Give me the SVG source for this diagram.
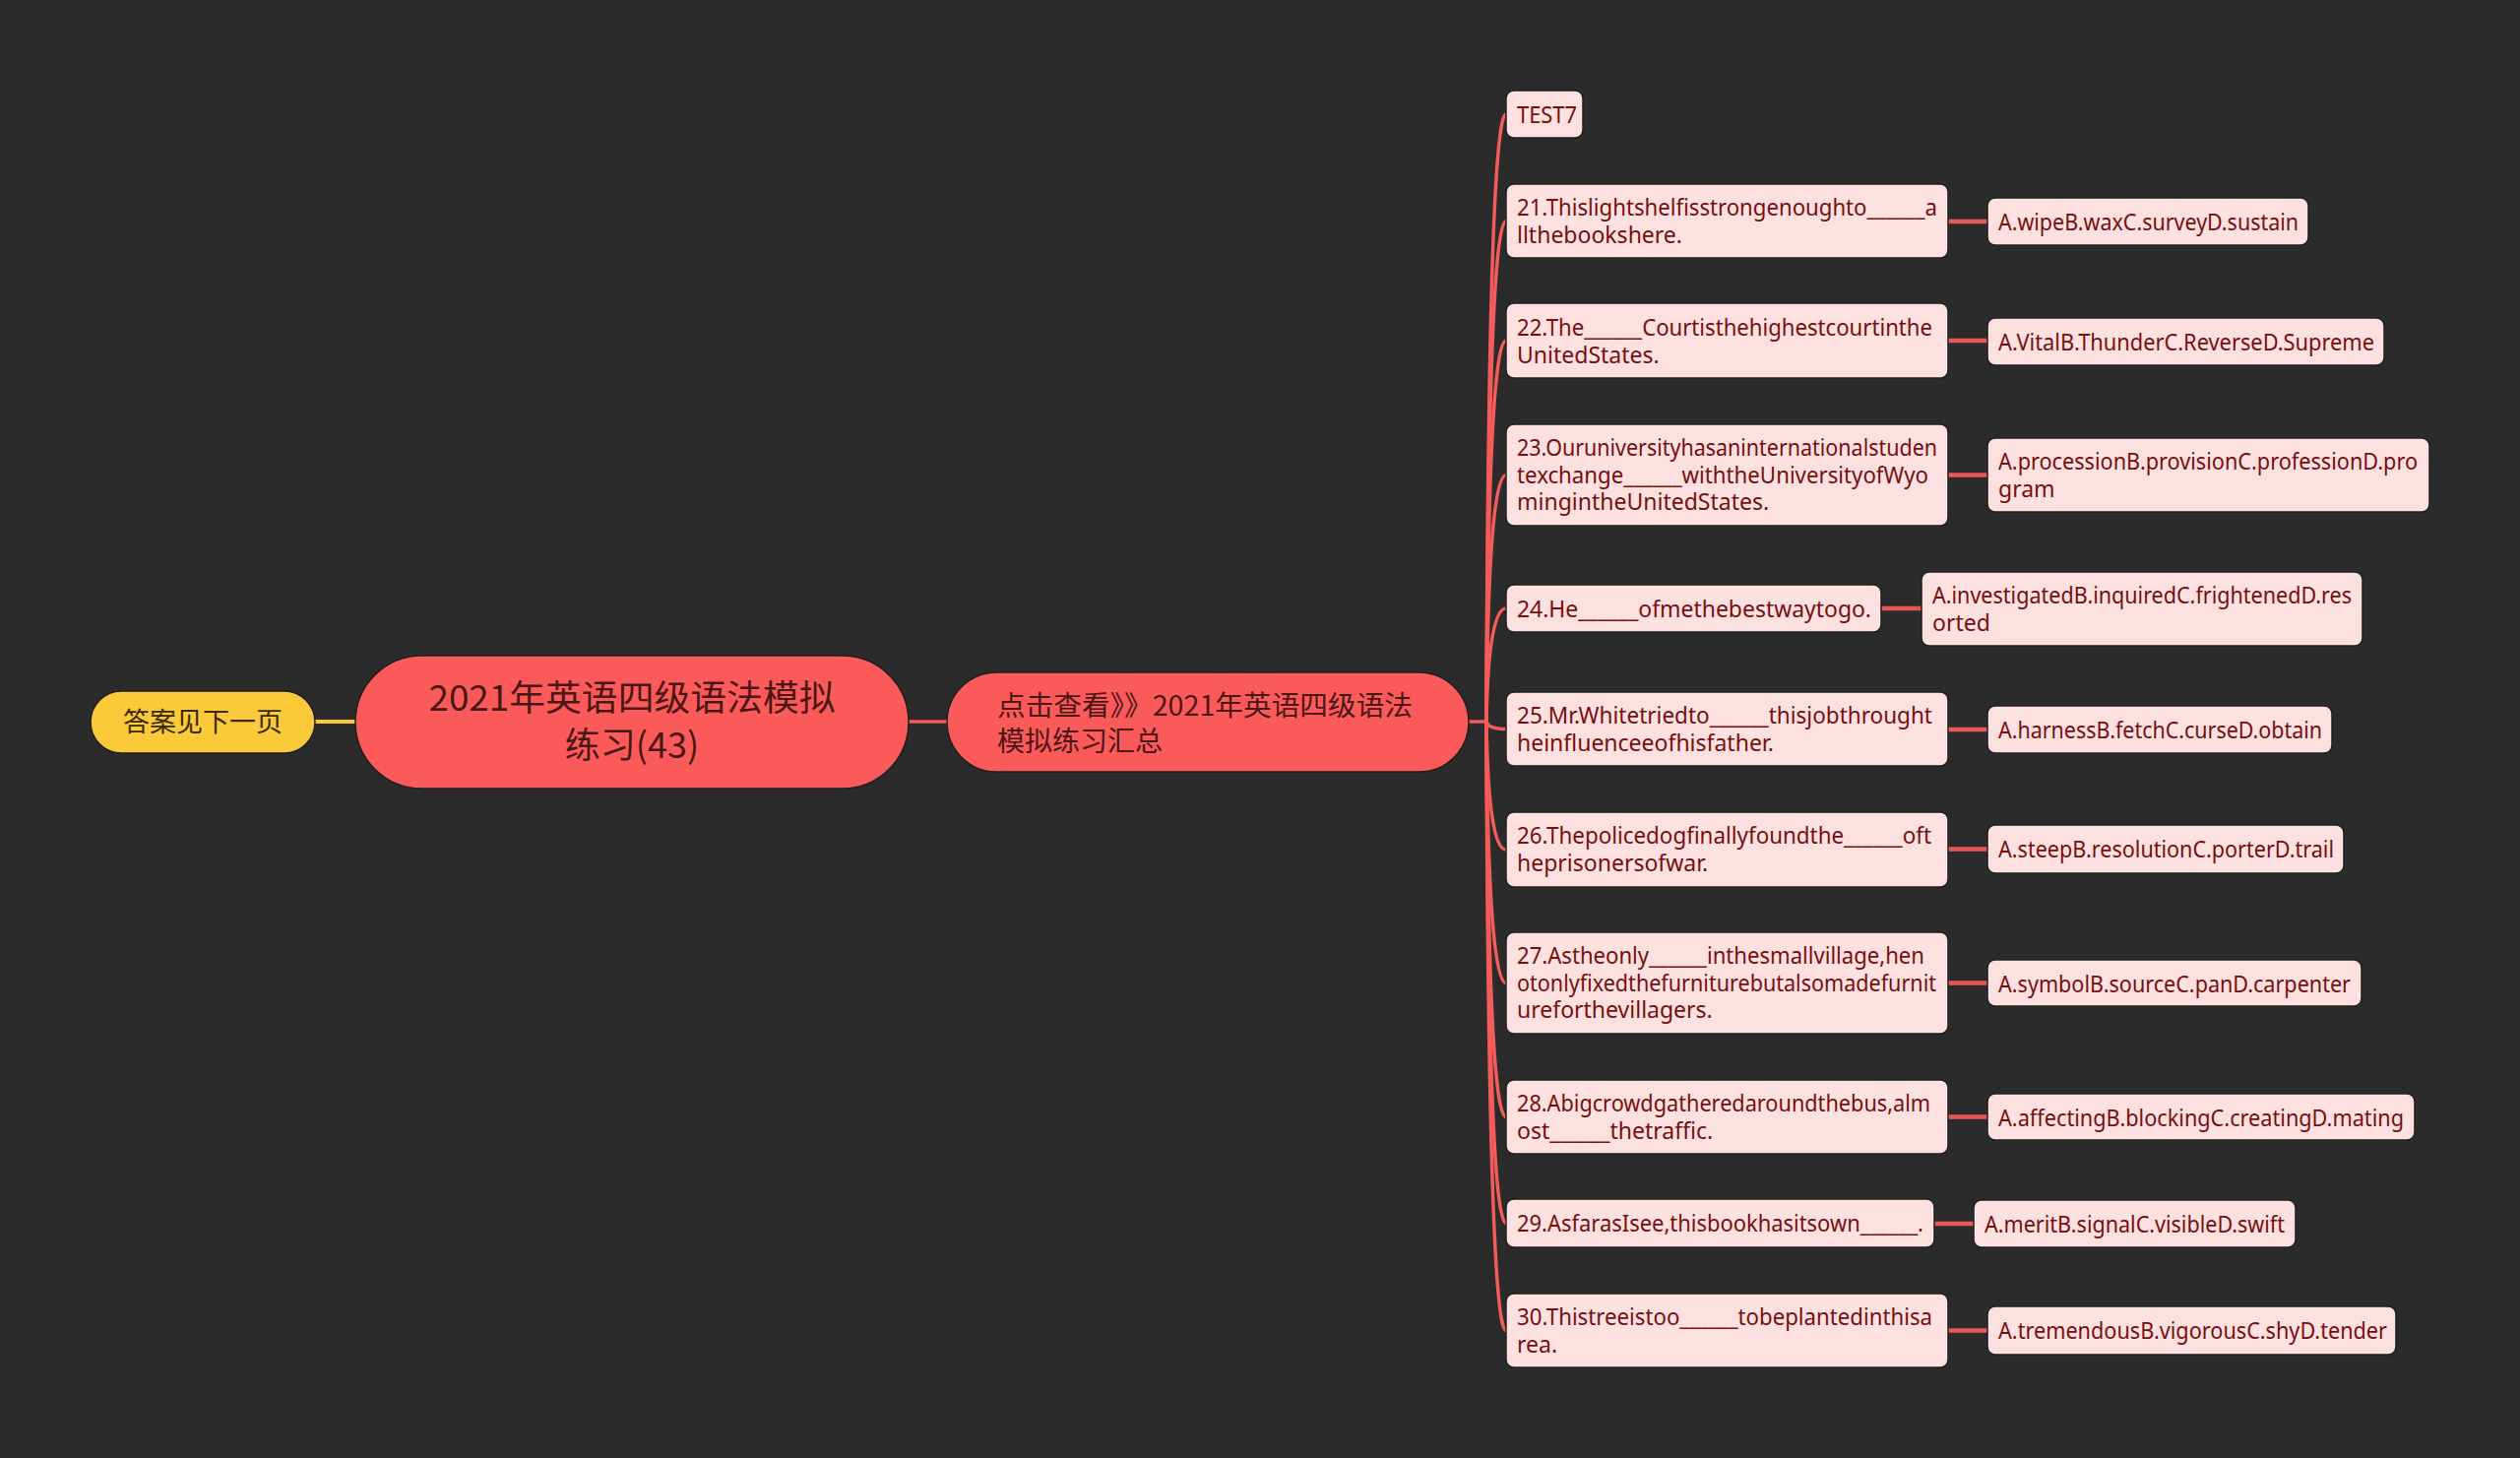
<svg xmlns="http://www.w3.org/2000/svg" width="2560" height="1481" viewBox="0 0 2560 1481">
<style>
.bg{fill:#2b2b2b}
.q rect,.a rect{fill:#fde0e0;stroke:#1f1f1f;stroke-width:1.5}
.q text,.a text{font-family:"Noto Sans","Open Sans","Liberation Sans",sans-serif;font-size:23px;fill:#760f0f}
.cn{fill:none;stroke:#f45b5b;stroke-width:3.5;stroke-linecap:round}
.cy{fill:none;stroke:#f9c93a;stroke-width:4}
.ca{fill:none;stroke:#e85858;stroke-width:4.5}
.zh{font-family:"Noto Sans CJK SC","Noto Sans",sans-serif}
</style>
<rect class="bg" x="0" y="0" width="2560" height="1481"/>

<g id="connectors">
<path class="cy" d="M318 733 L361 733"/>
<path class="cn" d="M924 733 L962 733"/>
<path class="cn" d="M1492 733 L1510 733"/>
<path class="cn" d="M1510 733 Q1512 116 1530 116"/>
<path class="cn" d="M1510 733 Q1512 224.5 1530 224.5"/>
<path class="cn" d="M1510 733 Q1512 346 1530 346"/>
<path class="cn" d="M1510 733 Q1512 482.5 1530 482.5"/>
<path class="cn" d="M1510 733 Q1512 618 1530 618"/>
<path class="cn" d="M1510 733 Q1512 740.5 1530 740.5"/>
<path class="cn" d="M1510 733 Q1512 863 1530 863"/>
<path class="cn" d="M1510 733 Q1512 998.5 1530 998.5"/>
<path class="cn" d="M1510 733 Q1512 1134.5 1530 1134.5"/>
<path class="cn" d="M1510 733 Q1512 1242.5 1530 1242.5"/>
<path class="cn" d="M1510 733 Q1512 1351.5 1530 1351.5"/>
<path class="ca" d="M1979 225 L2019 225"/>
<path class="ca" d="M1979 346 L2019 346"/>
<path class="ca" d="M1979 482.5 L2019 482.5"/>
<path class="ca" d="M1911 618 L1952 618"/>
<path class="ca" d="M1979 741 L2019 741"/>
<path class="ca" d="M1979 862.5 L2019 862.5"/>
<path class="ca" d="M1979 998.5 L2019 998.5"/>
<path class="ca" d="M1979 1134.5 L2019 1134.5"/>
<path class="ca" d="M1965 1243 L2005 1243"/>
<path class="ca" d="M1979 1351.5 L2019 1351.5"/>
</g>

<g id="node-answer-next">
<rect x="92" y="702" width="228" height="63" rx="31.5" fill="#fbca3b" stroke="#1f1f1f" stroke-width="1.5"/>
<text class="zh" x="206" y="743" font-size="27" fill="#3a2a06" text-anchor="middle">答案见下一页</text>
</g>

<g id="node-root">
<rect x="361" y="666" width="562" height="135" rx="67.5" fill="#fb5a5a" stroke="#1f1f1f" stroke-width="1.5"/>
<text class="zh" x="642" y="722" font-size="36" fill="#4a1616" text-anchor="middle" textLength="413" lengthAdjust="spacingAndGlyphs">2021年英语四级语法模拟</text>
<text class="zh" x="642" y="770" font-size="36" fill="#4a1616" text-anchor="middle">练习(43)</text>
</g>

<g id="node-summary">
<rect x="962" y="683" width="530" height="101" rx="50.5" fill="#fb5a5a" stroke="#1f1f1f" stroke-width="1.5"/>
<text class="zh" x="1013" y="727" font-size="28" fill="#4a1616" textLength="422" lengthAdjust="spacingAndGlyphs">点击查看》》2021年英语四级语法</text>
<text class="zh" x="1013" y="763" font-size="28" fill="#4a1616">模拟练习汇总</text>
</g>

<g id="node-test7" class="q">
<rect x="1530" y="92" width="78" height="48" rx="8"/>
<text x="1541" y="125" textLength="61" lengthAdjust="spacingAndGlyphs">TEST7</text>
</g>

<g id="node-q21" class="q">
<rect x="1530" y="187" width="449" height="75" rx="8"/>
<text x="1541" y="219" textLength="427" lengthAdjust="spacingAndGlyphs">21.Thislightshelfisstrongenoughto______a</text>
<text x="1541" y="247">llthebookshere.</text>
</g>
<g id="node-a21" class="a">
<rect x="2019" y="201" width="326" height="48" rx="8"/>
<text x="2030" y="234" textLength="305" lengthAdjust="spacingAndGlyphs">A.wipeB.waxC.surveyD.sustain</text>
</g>

<g id="node-q22" class="q">
<rect x="1530" y="308" width="449" height="76" rx="8"/>
<text x="1541" y="341" textLength="422" lengthAdjust="spacingAndGlyphs">22.The______Courtisthehighestcourtinthe</text>
<text x="1541" y="369">UnitedStates.</text>
</g>
<g id="node-a22" class="a">
<rect x="2019" y="323" width="403" height="48" rx="8"/>
<text x="2030" y="356" textLength="382" lengthAdjust="spacingAndGlyphs">A.VitalB.ThunderC.ReverseD.Supreme</text>
</g>

<g id="node-q23" class="q">
<rect x="1530" y="431" width="449" height="103" rx="8"/>
<text x="1541" y="463" textLength="427" lengthAdjust="spacingAndGlyphs">23.Ouruniversityhasaninternationalstuden</text>
<text x="1541" y="491" textLength="418" lengthAdjust="spacingAndGlyphs">texchange______withtheUniversityofWyo</text>
<text x="1541" y="518">mingintheUnitedStates.</text>
</g>
<g id="node-a23" class="a">
<rect x="2019" y="445" width="449" height="75" rx="8"/>
<text x="2030" y="477" textLength="426" lengthAdjust="spacingAndGlyphs">A.processionB.provisionC.professionD.pro</text>
<text x="2030" y="505">gram</text>
</g>

<g id="node-q24" class="q">
<rect x="1530" y="594" width="381" height="48" rx="8"/>
<text x="1541" y="627" textLength="360" lengthAdjust="spacingAndGlyphs">24.He______ofmethebestwaytogo.</text>
</g>
<g id="node-a24" class="a">
<rect x="1952" y="581" width="448" height="75" rx="8"/>
<text x="1963" y="613" textLength="426" lengthAdjust="spacingAndGlyphs">A.investigatedB.inquiredC.frightenedD.res</text>
<text x="1963" y="641">orted</text>
</g>

<g id="node-q25" class="q">
<rect x="1530" y="703" width="449" height="75" rx="8"/>
<text x="1541" y="735" textLength="422" lengthAdjust="spacingAndGlyphs">25.Mr.Whitetriedto______thisjobthrought</text>
<text x="1541" y="763">heinfluenceeofhisfather.</text>
</g>
<g id="node-a25" class="a">
<rect x="2019" y="717" width="350" height="48" rx="8"/>
<text x="2030" y="750" textLength="329" lengthAdjust="spacingAndGlyphs">A.harnessB.fetchC.curseD.obtain</text>
</g>

<g id="node-q26" class="q">
<rect x="1530" y="825" width="449" height="76" rx="8"/>
<text x="1541" y="857" textLength="421" lengthAdjust="spacingAndGlyphs">26.Thepolicedogfinallyfoundthe______oft</text>
<text x="1541" y="885">heprisonersofwar.</text>
</g>
<g id="node-a26" class="a">
<rect x="2019" y="838" width="362" height="49" rx="8"/>
<text x="2030" y="871" textLength="341" lengthAdjust="spacingAndGlyphs">A.steepB.resolutionC.porterD.trail</text>
</g>

<g id="node-q27" class="q">
<rect x="1530" y="947" width="449" height="103" rx="8"/>
<text x="1541" y="979" textLength="414" lengthAdjust="spacingAndGlyphs">27.Astheonly______inthesmallvillage,hen</text>
<text x="1541" y="1007" textLength="426" lengthAdjust="spacingAndGlyphs">otonlyfixedthefurniturebutalsomadefurnit</text>
<text x="1541" y="1034">ureforthevillagers.</text>
</g>
<g id="node-a27" class="a">
<rect x="2019" y="975" width="380" height="47" rx="8"/>
<text x="2030" y="1008" textLength="358" lengthAdjust="spacingAndGlyphs">A.symbolB.sourceC.panD.carpenter</text>
</g>

<g id="node-q28" class="q">
<rect x="1530" y="1097" width="449" height="75" rx="8"/>
<text x="1541" y="1129" textLength="420" lengthAdjust="spacingAndGlyphs">28.Abigcrowdgatheredaroundthebus,alm</text>
<text x="1541" y="1157">ost______thetraffic.</text>
</g>
<g id="node-a28" class="a">
<rect x="2019" y="1111" width="434" height="47" rx="8"/>
<text x="2030" y="1144" textLength="412" lengthAdjust="spacingAndGlyphs">A.affectingB.blockingC.creatingD.mating</text>
</g>

<g id="node-q29" class="q">
<rect x="1530" y="1218" width="435" height="49" rx="8"/>
<text x="1541" y="1251" textLength="413" lengthAdjust="spacingAndGlyphs">29.AsfarasIsee,thisbookhasitsown______.</text>
</g>
<g id="node-a29" class="a">
<rect x="2005" y="1219" width="327" height="48" rx="8"/>
<text x="2016" y="1252" textLength="305" lengthAdjust="spacingAndGlyphs">A.meritB.signalC.visibleD.swift</text>
</g>

<g id="node-q30" class="q">
<rect x="1530" y="1314" width="449" height="75" rx="8"/>
<text x="1541" y="1346" textLength="422" lengthAdjust="spacingAndGlyphs">30.Thistreeistoo______tobeplantedinthisa</text>
<text x="1541" y="1374">rea.</text>
</g>
<g id="node-a30" class="a">
<rect x="2019" y="1327" width="415" height="49" rx="8"/>
<text x="2030" y="1360" textLength="395" lengthAdjust="spacingAndGlyphs">A.tremendousB.vigorousC.shyD.tender</text>
</g>
</svg>
